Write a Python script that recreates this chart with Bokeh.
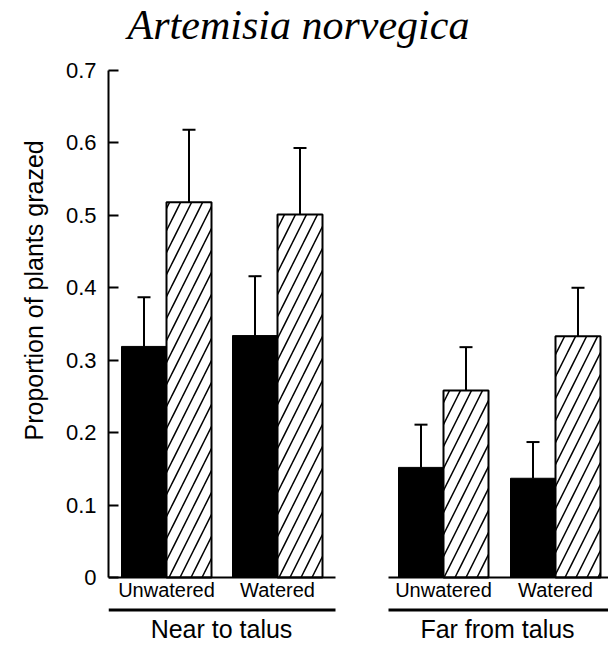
from bokeh.plotting import figure
from bokeh.models import Range1d, FixedTicker, ColumnDataSource, Title
from bokeh.core.properties import value
from bokeh.embed import file_html
from bokeh.resources import INLINE

# ---- data ----
title = "Artemisia norvegica"
y_label = "Proportion of plants grazed"
locations = ["Near to talus", "Far from talus"]
treatments = ["Unwatered", "Watered", "Unwatered", "Watered"]
solid_means = [0.319, 0.334, 0.152, 0.137]
solid_se = [0.068, 0.082, 0.059, 0.050]
hatched_means = [0.518, 0.501, 0.258, 0.333]
hatched_se = [0.100, 0.092, 0.060, 0.067]
y_ticks = [0, 0.1, 0.2, 0.3, 0.4, 0.5, 0.6, 0.7]
y_tick_labels = ["0", "0.1", "0.2", "0.3", "0.4", "0.5", "0.6", "0.7"]

# ---- layout (x in px-like units) ----
pair_centers = [166, 277, 443, 555]
bar_w = 45
half = bar_w / 2
group_spans = [(108, 335), (388, 608)]
group_label_x = [221, 497]
cap_half = 6.5

p = figure(width=608, height=645, output_backend="svg", toolbar_location=None,
           x_range=Range1d(108, 608), y_range=Range1d(-0.0939, 0.7966),
           x_axis_location=None, min_border_left=108, min_border_right=0,
           min_border_top=0, min_border_bottom=0)
p.outline_line_color = None
p.xgrid.visible = False
p.ygrid.visible = False
p.background_fill_color = "white"
p.border_fill_color = "white"

ax = p.yaxis[0]
ax.bounds = (0, 0.7)
ax.ticker = FixedTicker(ticks=y_ticks)
ax.major_label_overrides = {t: l for t, l in zip(y_ticks, y_tick_labels)}
ax.major_tick_in = 10
ax.major_tick_out = 0
ax.minor_tick_line_color = None
ax.axis_line_width = 2
ax.major_tick_line_width = 2
ax.axis_line_color = "black"
ax.major_tick_line_color = "black"
ax.major_label_text_font = "Liberation Sans"
ax.major_label_text_font_size = "22px"
ax.major_label_text_color = "black"
ax.major_label_standoff = 12

# y-axis title as a left-side Title so it can be offset upward
p.add_layout(Title(text=y_label, align="left", offset=205, standoff=30,
                   text_font="Liberation Sans", text_font_size="25px",
                   text_font_style="normal", text_color="black"), "left")

solid_x = [c - half for c in pair_centers]
hatch_x = [c + half for c in pair_centers]

src_s = ColumnDataSource(dict(x=solid_x, top=solid_means,
                              up=[m + s for m, s in zip(solid_means, solid_se)],
                              x0=[x - cap_half for x in solid_x],
                              x1=[x + cap_half for x in solid_x]))
src_h = ColumnDataSource(dict(x=hatch_x, top=hatched_means,
                              up=[m + s for m, s in zip(hatched_means, hatched_se)],
                              x0=[x - cap_half for x in hatch_x],
                              x1=[x + cap_half for x in hatch_x]))

for src in (src_s, src_h):
    p.segment(x0="x", y0="top", x1="x", y1="up", source=src, line_color="black", line_width=2)
    p.segment(x0="x0", y0="up", x1="x1", y1="up", source=src, line_color="black", line_width=2)

p.vbar(x="x", top="top", bottom=0, width=bar_w, source=src_s,
       fill_color="black", line_color="black", line_width=1)
p.vbar(x="x", top="top", bottom=0, width=bar_w, source=src_h,
       fill_color="white", line_color="black", line_width=2,
       hatch_pattern="/", hatch_scale=22, hatch_weight=1.5, hatch_color="black")

# baselines and group underlines
for (a, b) in group_spans:
    p.segment(x0=[a], y0=[0], x1=[b], y1=[0], line_color="black", line_width=2)
    p.segment(x0=[a], y0=[-0.0449], x1=[b], y1=[-0.0449], line_color="black", line_width=2.8)

p.text(x=pair_centers, y=[-0.0179] * 4, text=treatments,
       text_font=value("Liberation Sans"), text_font_size="20px",
       text_align="center", text_baseline="alphabetic", text_color="black")
p.text(x=group_label_x, y=[-0.0718] * 2, text=locations,
       text_font=value("Liberation Sans"), text_font_size="25px",
       text_align="center", text_baseline="alphabetic", text_color="black")
p.text(x=[298], y=[0.7621], text=[title],
       text_font=value("Liberation Serif"), text_font_size="42px", text_font_style="italic",
       text_align="center", text_baseline="alphabetic", text_color="black")

open("out.html", "w").write(file_html(p, INLINE))
